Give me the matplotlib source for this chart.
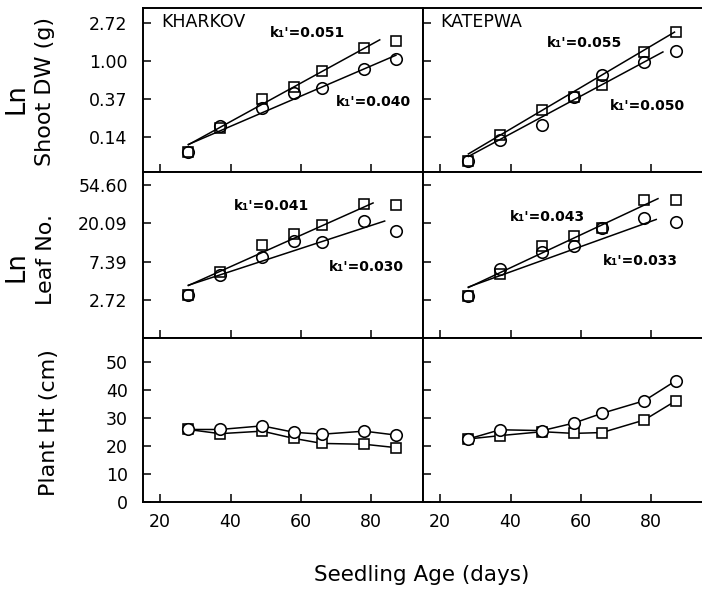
import numpy as np
import matplotlib
matplotlib.use("Agg")
import matplotlib.pyplot as plt

# ---------------- data ----------------
days = [28, 37, 49, 58, 66, 78, 87]
cultivars = ["KHARKOV", "KATEPWA"]

# ln Shoot DW (g)  (squares / circles)
dw_sq = {"KHARKOV": [-2.40, -1.78, -1.00, -0.68, -0.26, 0.35, 0.53],
         "KATEPWA": [-2.64, -1.95, -1.30, -0.95, -0.64, 0.23, 0.77]}
dw_ci = {"KHARKOV": [-2.40, -1.72, -1.25, -0.85, -0.72, -0.22, 0.06],
         "KATEPWA": [-2.64, -2.08, -1.70, -0.95, -0.38, -0.03, 0.26]}

# ln Leaf No.
lf_sq = {"KHARKOV": [1.13, 1.74, 2.44, 2.72, 2.96, 3.51, 3.48],
         "KATEPWA": [1.10, 1.68, 2.40, 2.66, 2.88, 3.60, 3.61]}
lf_ci = {"KHARKOV": [1.13, 1.65, 2.11, 2.55, 2.52, 3.07, 2.80],
         "KATEPWA": [1.10, 1.81, 2.25, 2.42, 2.88, 3.14, 3.03]}

# Plant height (cm)
ht_sq = {"KHARKOV": [25.9, 24.4, 25.3, 22.7, 20.9, 20.6, 19.4],
         "KATEPWA": [22.5, 23.7, 25.1, 24.5, 24.8, 29.3, 36.2]}
ht_ci = {"KHARKOV": [25.9, 25.9, 27.2, 24.9, 24.2, 25.3, 23.9],
         "KATEPWA": [22.5, 25.8, 25.5, 28.2, 31.7, 36.2, 43.4]}

# Regression fits: slope k1', intercept (ln at day 0), day range
dw_k_sq = {"KHARKOV": 0.051, "KATEPWA": 0.055}
dw_k_ci = {"KHARKOV": 0.040, "KATEPWA": 0.050}
dw_b_sq = {"KHARKOV": -3.640, "KATEPWA": -3.996}
dw_b_ci = {"KHARKOV": -3.325, "KATEPWA": -3.923}
dw_rng_sq = {"KHARKOV": (28, 82.4), "KATEPWA": (28, 86.6)}
dw_rng_ci = {"KHARKOV": (28, 87.0), "KATEPWA": (28, 83.3)}

lf_k_sq = {"KHARKOV": 0.041, "KATEPWA": 0.043}
lf_k_ci = {"KHARKOV": 0.030, "KATEPWA": 0.033}
lf_b_sq = {"KHARKOV": 0.2305, "KATEPWA": 0.1222}
lf_b_ci = {"KHARKOV": 0.5455, "KATEPWA": 0.4149}
lf_rng_sq = {"KHARKOV": (28, 80.5), "KATEPWA": (28, 81.9)}
lf_rng_ci = {"KHARKOV": (28, 83.8), "KATEPWA": (28, 81.4)}

dw_ticks = [1, 0, -1, -2]
lf_ticks = [4, 3, 2, 1]
ht_ticks = [0, 10, 20, 30, 40, 50]
x_ticks = [20, 40, 60, 80]

# ---------------- figure ----------------
W, H = 702, 589
fig = plt.figure(figsize=(W / 100, H / 100), dpi=100)
plt.rcParams["font.family"] = ["DejaVu Sans"]


def px_axes(x0, y0, x1, y1):
    return fig.add_axes([x0 / W, 1 - y1 / H, (x1 - x0) / W, (y1 - y0) / H])


cols = [(143, 423), (423, 703)]
rows = [(8, 172), (172, 338), (338, 502)]
ylims = [(-2.934, 1.405), (0.009, 4.339), (-0.1, 58.7)]

lw = 1.1
mk_ci = dict(marker="o", ms=8.3, mew=1.15, mec="black", color="black")
mk_sq = dict(marker="s", ms=6.5, mew=1.15, mec="black", color="black")

axes = {}
for r, (y0, y1) in enumerate(rows):
    for c, (x0, x1) in enumerate(cols):
        ax = px_axes(x0, y0, x1, y1)
        axes[(r, c)] = ax
        ax.set_xlim(15.1, 94.7)
        ax.set_ylim(*ylims[r])
        for s in ax.spines.values():
            s.set_linewidth(1.4)
        ax.tick_params(direction="in", length=6, width=1.1, labelsize=12.5,
                       top=False, right=False)
        ax.tick_params(axis="y", pad=11)
        ax.tick_params(axis="x", pad=8)
        ax.set_xticks(x_ticks)
        if r < 2:
            ax.set_xticklabels([])
        if c == 1:
            ax.tick_params(axis="y", labelleft=False)

for c, cv in enumerate(cultivars):
    # Shoot DW
    ax = axes[(0, c)]
    for k, b, rng in [(dw_k_sq[cv], dw_b_sq[cv], dw_rng_sq[cv]),
                      (dw_k_ci[cv], dw_b_ci[cv], dw_rng_ci[cv])]:
        xx = np.array(rng)
        ax.plot(xx, b + k * xx, color="black", lw=lw, zorder=2)
    ax.plot(days, dw_sq[cv], ls="none", mfc="none", zorder=3, **mk_sq)
    ax.plot(days, dw_ci[cv], ls="none", mfc="none", zorder=3, **mk_ci)
    ax.set_yticks(dw_ticks)
    ax.set_yticklabels([f"{np.exp(v):.2f}" for v in dw_ticks])

    # Leaf No.
    ax = axes[(1, c)]
    for k, b, rng in [(lf_k_sq[cv], lf_b_sq[cv], lf_rng_sq[cv]),
                      (lf_k_ci[cv], lf_b_ci[cv], lf_rng_ci[cv])]:
        xx = np.array(rng)
        ax.plot(xx, b + k * xx, color="black", lw=lw, zorder=2)
    ax.plot(days, lf_sq[cv], ls="none", mfc="none", zorder=3, **mk_sq)
    ax.plot(days, lf_ci[cv], ls="none", mfc="none", zorder=3, **mk_ci)
    ax.set_yticks(lf_ticks)
    ax.set_yticklabels([f"{np.exp(v):.2f}" for v in lf_ticks])

    # Plant height
    ax = axes[(2, c)]
    ax.plot(days, ht_sq[cv], lw=lw, mfc="white", zorder=3, **mk_sq)
    ax.plot(days, ht_ci[cv], lw=lw, mfc="white", zorder=4, **mk_ci)
    ax.set_yticks(ht_ticks)

# panel titles
kt = dict(fontsize=10, fontweight="bold", ha="left", va="center")
axes[(0, 0)].text(20.3, 1.03, "KHARKOV", fontsize=12.5, ha="left", va="center")
axes[(0, 1)].text(20.0, 1.03, "KATEPWA", fontsize=12.5, ha="left", va="center")

axes[(0, 0)].text(51.3, 0.74, f"k\u2081'={dw_k_sq['KHARKOV']:.3f}", **kt)
axes[(0, 0)].text(69.8, -1.08, f"k\u2081'={dw_k_ci['KHARKOV']:.3f}", **kt)
axes[(0, 1)].text(50.4, 0.47, f"k\u2081'={dw_k_sq['KATEPWA']:.3f}", **kt)
axes[(0, 1)].text(68.3, -1.18, f"k\u2081'={dw_k_ci['KATEPWA']:.3f}", **kt)
axes[(1, 0)].text(40.9, 3.45, f"k\u2081'={lf_k_sq['KHARKOV']:.3f}", **kt)
axes[(1, 0)].text(67.9, 1.87, f"k\u2081'={lf_k_ci['KHARKOV']:.3f}", **kt)
axes[(1, 1)].text(39.8, 3.17, f"k\u2081'={lf_k_sq['KATEPWA']:.3f}", **kt)
axes[(1, 1)].text(66.2, 2.03, f"k\u2081'={lf_k_ci['KATEPWA']:.3f}", **kt)

# axis labels
def ftext(x, y, s, **kw):
    fig.text(x / W, 1 - y / H, s, rotation=90, ha="center", va="center", **kw)

ftext(17, 99, "Ln", fontsize=18.5)
ftext(45, 91, "Shoot DW (g)", fontsize=16)
ftext(17, 267, "Ln", fontsize=18.5)
ftext(46, 260, "Leaf No.", fontsize=16)
ftext(49, 423, "Plant Ht (cm)", fontsize=16)
fig.text(422 / W, 1 - 575 / H, "Seedling Age (days)", fontsize=15.5,
         ha="center", va="center")

fig.savefig("out.png", dpi=100)
